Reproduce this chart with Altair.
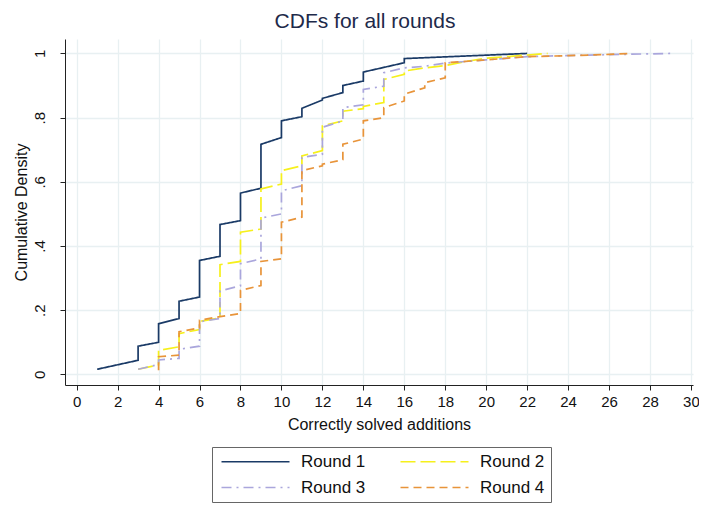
import altair as alt
import pandas as pd

# Round 1
r1_x = [1, 3, 3, 4, 4, 5, 5, 6, 6, 7, 7, 8, 8, 9, 9, 10, 10, 11, 11, 12, 12, 13, 13, 14, 14, 16, 16, 22]
r1_y = [0.016, 0.044, 0.088, 0.10, 0.158, 0.174, 0.228, 0.241, 0.355, 0.368, 0.467, 0.479, 0.565,
        0.58, 0.717, 0.738, 0.79, 0.803, 0.829, 0.855, 0.86, 0.878, 0.90, 0.914, 0.942, 0.971, 0.984, 1.0]
# Round 2
r2_x = [3, 4, 4, 5, 5, 6, 6, 7, 7, 8, 8, 9, 9, 10, 10, 11, 11, 12, 12, 13, 13, 14, 14, 15, 15,
        16, 16, 17, 18, 19, 20, 21, 22, 23]
r2_y = [0.016, 0.03, 0.075, 0.086, 0.127, 0.14, 0.165, 0.176, 0.342, 0.352, 0.443, 0.453, 0.578,
        0.593, 0.635, 0.65, 0.681, 0.697, 0.774, 0.79, 0.82, 0.828, 0.835, 0.847, 0.919,
        0.935, 0.945, 0.955, 0.962, 0.975, 0.985, 0.99, 0.995, 1.0]
# Round 3
r3_x = [3, 4, 4, 5, 5, 6, 6, 7, 7, 8, 8, 9, 9, 10, 10, 11, 11, 12, 12, 13, 13, 14, 14, 15, 15,
        16, 17, 18, 19, 20, 22, 25, 29]
r3_y = [0.016, 0.031, 0.045, 0.05, 0.078, 0.088, 0.164, 0.174, 0.26, 0.276, 0.345, 0.36, 0.487,
        0.50, 0.572, 0.588, 0.676, 0.686, 0.77, 0.79, 0.831, 0.84, 0.888, 0.898, 0.94,
        0.955, 0.96, 0.97, 0.975, 0.98, 0.99, 0.995, 1.0]
# Round 4
r4_x = [4, 4, 5, 5, 6, 6, 7, 8, 8, 9, 9, 10, 10, 11, 11, 12, 12, 13, 13, 14, 14, 15, 15, 16, 16,
        17, 17, 18, 18, 19, 20, 21, 22, 24, 26, 27]
r4_y = [0.013, 0.055, 0.06, 0.133, 0.145, 0.169, 0.18, 0.19, 0.262, 0.277, 0.352, 0.36, 0.474,
        0.49, 0.635, 0.65, 0.655, 0.669, 0.717, 0.733, 0.79, 0.80, 0.831, 0.852, 0.873,
        0.893, 0.909, 0.924, 0.971, 0.975, 0.98, 0.985, 0.99, 0.993, 0.997, 1.0]

rounds = ["Round 1", "Round 2", "Round 3", "Round 4"]
colors = ["#1a3a66", "#f6f01c", "#aaa6dc", "#e8943a"]
dashes = [[1, 0], [15, 5], [10, 5, 2, 5], [8, 5]]

rows = []
for name, xs, ys in zip(rounds, [r1_x, r2_x, r3_x, r4_x], [r1_y, r2_y, r3_y, r4_y]):
    for i, (xv, yv) in enumerate(zip(xs, ys)):
        rows.append({"round": name, "x": xv, "y": yv, "order": i})
df = pd.DataFrame(rows)

FONT = "Liberation Sans"

chart = alt.Chart(df).mark_line(strokeWidth=1.7, clip=True).encode(
    x=alt.X("x:Q", title="Correctly solved additions",
            scale=alt.Scale(domain=[-0.57, 30.1], nice=False, zero=False),
            axis=alt.Axis(values=list(range(0, 31, 2)), labelFontSize=15, titleFontSize=16,
                          titlePadding=7, labelPadding=4, tickSize=5, grid=True)),
    y=alt.Y("y:Q", title="Cumulative Density",
            scale=alt.Scale(domain=[-0.033, 1.045], nice=False, zero=False),
            axis=alt.Axis(values=[0, 0.2, 0.4, 0.6, 0.8, 1.0], labelAngle=-90,
                          labelAlign="center", labelBaseline="bottom",
                          labelExpr="datum.value == 0 ? '0' : datum.value == 1 ? '1' : '.' + format(datum.value * 10, '.0f')",
                          labelFontSize=15, titleFontSize=16, labelPadding=13, titlePadding=3,
                          tickSize=5, grid=True)),
    color=alt.Color("round:N", scale=alt.Scale(domain=rounds, range=colors),
                    legend=alt.Legend(title=None, orient="none", legendX=147, legendY=408,
                                      columns=2, direction="horizontal",
                                      symbolType="M-1,0L12.6,0", symbolSize=100,
                                      symbolStrokeWidth=1.7, labelFontSize=17,
                                      labelOffset=66, columnPadding=31, rowPadding=8,
                                      padding=6, strokeColor="#666", labelFont=FONT,
                                      labelColor="#111")),
    strokeDash=alt.StrokeDash("round:N", scale=alt.Scale(domain=rounds, range=dashes), legend=None),
    order="order:Q",
).properties(
    width=628, height=346,
    title=alt.TitleParams("CDFs for all rounds", fontSize=21, font=FONT, fontWeight="normal",
                          color="#1e2a4a", offset=7, dx=-14),
    autosize=alt.AutoSizeParams(type="none"),
    padding={"left": 57, "top": 31, "right": 6, "bottom": 118},
).configure_view(stroke=None).configure_axis(
    labelFont=FONT, titleFont=FONT, labelColor="#111", titleColor="#111",
    titleFontWeight="normal",
    domainColor="#222", tickColor="#222", gridColor="#e8f0f2", gridWidth=1.3,
).configure_legend(labelFont=FONT)

chart.save("out.html", embed_options={"renderer": "svg", "actions": False})
